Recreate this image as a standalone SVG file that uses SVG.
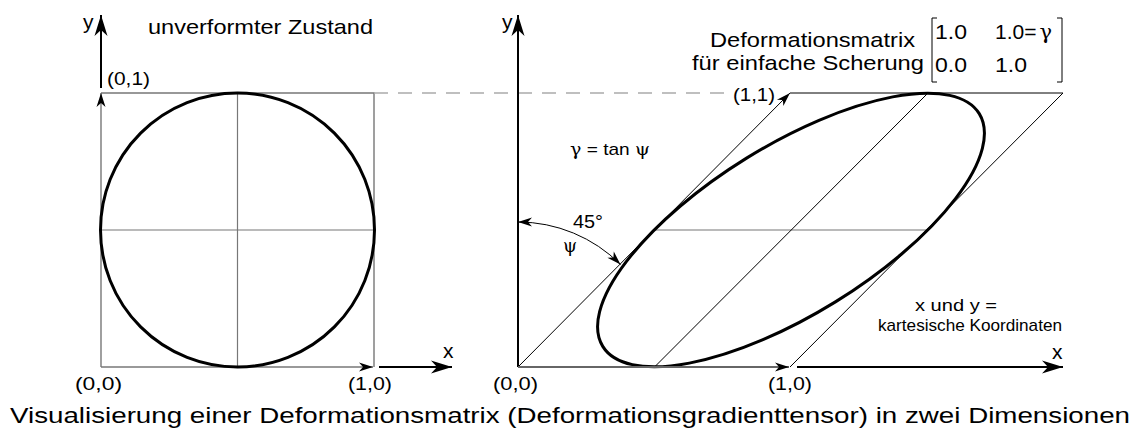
<svg xmlns="http://www.w3.org/2000/svg" width="1132" height="432" viewBox="0 0 1132 432">
  <style>
    text { font-family: "Liberation Sans", Arial, sans-serif; fill: #000; }
    .lbl { font-size: 19px; }
    .sm { font-size: 17px; }
    .greek { font-family: "DejaVu Serif", "Liberation Serif", serif; fill: #000; }
    .axis { stroke: #000; stroke-width: 2; fill: none; }
    .edge { stroke: #777; stroke-width: 1.4; fill: none; }
    .thin { stroke: #000; stroke-width: 1; fill: none; }
    .grid { stroke: #777; stroke-width: 1.2; fill: none; }
    .shape { stroke: #000; stroke-width: 3; fill: none; }
    .dash { stroke: #aaa; stroke-width: 1.5; stroke-dasharray: 14 10; fill: none; }
  </style>
  <defs>
    <marker id="big" markerUnits="userSpaceOnUse" markerWidth="24" markerHeight="16" viewBox="-22 -8 24 16" refX="0" refY="0" orient="auto">
      <path d="M0,0 L-21,-6.5 L-15,0 L-21,6.5 Z" fill="#000"/>
    </marker>
    <marker id="small" markerUnits="userSpaceOnUse" markerWidth="16" markerHeight="10" viewBox="-15 -5 16 10" refX="0" refY="0" orient="auto-start-reverse">
      <path d="M0,0 L-14,-4.5 L-10,0 L-14,4.5 Z" fill="#000"/>
    </marker>
  </defs>

  <!-- left panel: undeformed state -->
  <g id="left-panel">
    <line class="grid" x1="237.5" y1="93" x2="237.5" y2="367"/>
    <line class="grid" x1="101" y1="230" x2="374" y2="230"/>
    <polyline class="edge" points="101,93 374,93 374,367"/>
    <line class="edge" x1="101" y1="367" x2="101" y2="93" marker-end="url(#small)"/>
    <line class="edge" x1="101" y1="367" x2="373" y2="367" marker-end="url(#small)"/>
    <circle class="shape" cx="237.5" cy="230" r="137"/>
  </g>

  <!-- right panel: sheared state -->
  <g id="right-panel">
    <line class="grid" x1="655" y1="230" x2="928" y2="230"/>
    <line class="thin" x1="654.5" y1="367" x2="928" y2="93"/>
    <line class="thin" x1="790" y1="93" x2="1063" y2="93"/>
    <line class="thin" x1="790" y1="367" x2="1063" y2="93"/>
    <line class="thin" x1="518" y1="367" x2="790" y2="93" marker-end="url(#small)"/>
    <ellipse class="shape" cx="791" cy="230" rx="221.3" ry="84.5" transform="rotate(-31.72 791 230)"/>
  </g>

  <!-- connectors / axes -->
  <g id="connectors">
    <line class="dash" x1="374" y1="93" x2="728" y2="93"/>
    <line class="axis" x1="101" y1="88" x2="101" y2="15" marker-end="url(#big)"/>
    <line class="axis" x1="379" y1="367" x2="452" y2="367" marker-end="url(#big)"/>
    <line class="axis" x1="518" y1="367" x2="518" y2="15" marker-end="url(#big)"/>
    <line class="axis" x1="797" y1="367" x2="1063" y2="367" marker-end="url(#big)"/>
    <line x1="518" y1="367" x2="789" y2="367" stroke="#666" stroke-width="2" marker-end="url(#small)"/>
    <path class="thin" d="M518,222 A145,145 0 0 1 620.5,264.5" stroke-width="1.2" marker-start="url(#small)" marker-end="url(#small)"/>
  </g>

  <!-- labels -->
  <g id="labels">
    <text x="83" y="29" font-size="21">y</text>
    <text x="148" y="34" font-size="21" textLength="225" lengthAdjust="spacingAndGlyphs">unverformter Zustand</text>
    <text class="lbl" x="107" y="85" textLength="43" lengthAdjust="spacingAndGlyphs">(0,1)</text>
    <text class="lbl" x="75" y="390" textLength="47" lengthAdjust="spacingAndGlyphs">(0,0)</text>
    <text class="lbl" x="348" y="390" textLength="44" lengthAdjust="spacingAndGlyphs">(1,0)</text>
    <text x="443" y="358" font-size="21">x</text>

    <text x="502" y="29" font-size="21">y</text>
    <text x="710" y="47" font-size="21" textLength="205" lengthAdjust="spacingAndGlyphs">Deformationsmatrix</text>
    <text x="692" y="70" font-size="21" textLength="232" lengthAdjust="spacingAndGlyphs">für einfache Scherung</text>
    <text class="lbl" x="733" y="101" textLength="42" lengthAdjust="spacingAndGlyphs">(1,1)</text>
    <text x="570" y="155" font-size="17" textLength="80" lengthAdjust="spacingAndGlyphs"><tspan class="greek" font-size="17">γ</tspan> = tan <tspan class="greek" font-size="17">ψ</tspan></text>
    <text class="lbl" x="573" y="228" textLength="30" lengthAdjust="spacingAndGlyphs">45°</text>
    <text class="greek" x="563" y="252" font-size="18">ψ</text>
    <text class="sm" x="915" y="311" textLength="82" lengthAdjust="spacingAndGlyphs">x und y =</text>
    <text class="sm" x="878" y="331" textLength="184" lengthAdjust="spacingAndGlyphs">kartesische Koordinaten</text>
    <text class="lbl" x="493" y="390" textLength="45" lengthAdjust="spacingAndGlyphs">(0,0)</text>
    <text class="lbl" x="768" y="390" textLength="44" lengthAdjust="spacingAndGlyphs">(1,0)</text>
    <text x="1052" y="359" font-size="21">x</text>
  </g>

  <!-- matrix -->
  <g id="matrix">
    <polyline class="thin" stroke-width="1.3" points="937,18 932,18 932,82 937,82"/>
    <polyline class="thin" stroke-width="1.3" points="1057,18 1062,18 1062,82 1057,82"/>
    <text x="935" y="39" font-size="21" textLength="32" lengthAdjust="spacingAndGlyphs">1.0</text>
    <text x="995" y="39" font-size="21">1.0=<tspan class="greek" dx="3">γ</tspan></text>
    <text x="935" y="72" font-size="21" textLength="32" lengthAdjust="spacingAndGlyphs">0.0</text>
    <text x="995" y="72" font-size="21" textLength="32" lengthAdjust="spacingAndGlyphs">1.0</text>
  </g>

  <g id="caption">
    <text x="10" y="423" font-size="22" textLength="1120" lengthAdjust="spacingAndGlyphs">Visualisierung einer Deformationsmatrix (Deformationsgradienttensor) in zwei Dimensionen</text>
  </g>
</svg>
